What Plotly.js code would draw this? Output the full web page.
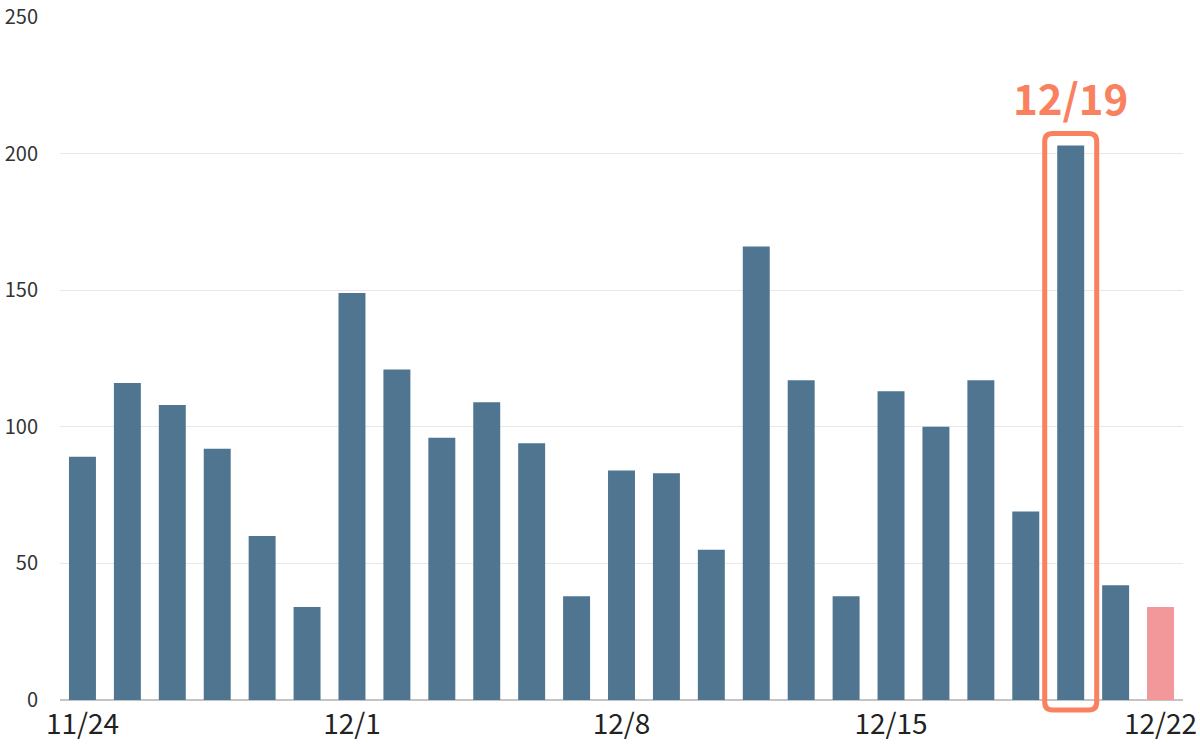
<!DOCTYPE html>
<html>
<head>
<meta charset="utf-8">
<script src="https://cdn.plot.ly/plotly-3.0.1.min.js"></script>
<style>html,body{margin:0;padding:0;background:#fff;}#chart{width:1200px;height:744px;}</style>
</head>
<body>
<div id="chart"></div>
<script>
const dates = ["11/24","11/25","11/26","11/27","11/28","11/29","12/1","12/2","12/3","12/4","12/5","12/6","12/8","12/9","12/10","12/11","12/12","12/13","12/15","12/16","12/17","12/18","12/19","12/20","12/22"];
const counts = [89,116,108,92,60,34,149,121,96,109,94,38,84,83,55,166,117,38,113,100,117,69,203,42,34];
const tickLabels = ["11/24","12/1","12/8","12/15","12/22"];
const highlightDate = "12/19";
const provisionalDate = "12/22";

const barColor = "#4F7590";
const provisionalColor = "#F2989B";
const accent = "#F98160";

const colors = dates.map(d => d === provisionalDate ? provisionalColor : barColor);
const hiIdx = dates.indexOf(highlightDate);
const hiVal = counts[hiIdx];

const margin = {l: 60, r: 17, t: 17, b: 44};
const H = 744;
const yMax = 250;
const pxPerUnit = (H - margin.t - margin.b) / yMax;

const rTop = hiVal * pxPerUnit + 12, rBot = -10, hw = 26, rr = 8;
const path = `M ${-hw + rr} ${rTop} L ${hw - rr} ${rTop} Q ${hw} ${rTop} ${hw} ${rTop - rr} L ${hw} ${rBot + rr} Q ${hw} ${rBot} ${hw - rr} ${rBot} L ${-hw + rr} ${rBot} Q ${-hw} ${rBot} ${-hw} ${rBot + rr} L ${-hw} ${rTop - rr} Q ${-hw} ${rTop} ${-hw + rr} ${rTop} Z`;

const font = "'Noto Sans CJK JP', 'Noto Sans', sans-serif";

Plotly.newPlot('chart', [{
  type: 'bar',
  x: dates,
  y: counts,
  marker: {color: colors},
  hoverinfo: 'x+y'
}], {
  width: 1200, height: 744,
  margin: margin,
  paper_bgcolor: '#fff', plot_bgcolor: '#fff',
  bargap: 0.4,
  showlegend: false,
  xaxis: {
    type: 'category',
    tickmode: 'array',
    tickvals: tickLabels,
    ticktext: tickLabels,
    showgrid: false,
    zeroline: false,
    showline: false,
    ticks: '',
    ticklabelstandoff: 5,
    tickfont: {family: font, size: 28, color: '#222'}
  },
  yaxis: {
    range: [0, yMax],
    tickvals: [0, 50, 100, 150, 200, 250],
    showgrid: true,
    gridcolor: '#E8E8E8',
    gridwidth: 1,
    zeroline: true,
    zerolinecolor: '#C4C4C4',
    zerolinewidth: 1.5,
    showline: false,
    ticks: '',
    ticklabelstandoff: 21,
    tickfont: {family: font, size: 20, color: '#333'}
  },
  shapes: [{
    type: 'path',
    xref: 'x', yref: 'paper',
    xsizemode: 'pixel', ysizemode: 'pixel',
    xanchor: highlightDate, yanchor: 0,
    path: path,
    line: {color: accent, width: 5},
    fillcolor: 'rgba(0,0,0,0)'
  }],
  annotations: [{
    xref: 'x', yref: 'y',
    x: highlightDate, y: hiVal,
    text: '<b>' + highlightDate + '</b>',
    showarrow: false,
    yanchor: 'bottom',
    yshift: 16,
    font: {family: font, size: 42, color: accent}
  }]
}, {displayModeBar: false, staticPlot: true});
</script>
</body>
</html>
